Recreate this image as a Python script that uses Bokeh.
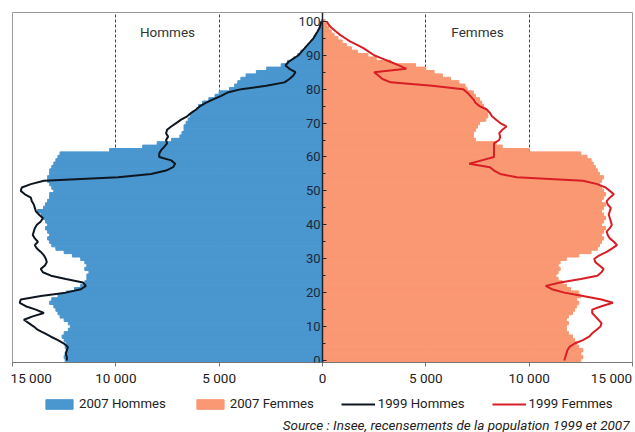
from bokeh.plotting import figure
from bokeh.layouts import column
from bokeh.models import (Range1d, FixedTicker, SingleIntervalTicker, Legend, LegendItem,
                          ColumnDataSource)
from bokeh.embed import file_html
from bokeh.resources import INLINE
from bokeh.core.properties import value

ages = list(range(0, 101))

hommes_2007 = [
    12450, 12500, 12450, 12400, 12450, 12400, 12500, 12600, 12500, 12300,
    12200, 12300, 12500, 12700, 12800, 12900, 13000, 13200, 13100, 12800,
    12400, 12000, 11700, 11500, 11400, 11400, 11300, 11500, 11400, 11500,
    11700, 12100, 12500, 12900, 13100, 13200, 13300, 13200, 13300, 13400,
    13300, 13400, 13500, 13600, 13800, 13500, 13400, 13300, 13200, 13200,
    13000, 13100, 13200, 13300, 13300, 13200, 13200, 13100, 13000, 12900,
    12800, 12700, 10300, 8700, 8000, 7300, 6900, 6800, 6700, 6700,
    6600, 6500, 6400, 6300, 6100, 6000, 5800, 5500, 5200, 5000,
    4500, 4250, 4100, 3950, 3700, 3200, 2700, 2000, 1700, 1400,
    1200, 1050, 850, 700, 550, 420, 300, 210, 140, 90,
    50]

femmes_2007 = [
    12500, 12600, 12500, 12600, 12400, 12300, 12200, 12100, 11900, 11800,
    11800, 11900, 11800, 11900, 12100, 12200, 12300, 12400, 12300, 12500,
    12400, 12000, 11800, 11600, 11400, 11300, 11400, 11500, 11400, 11500,
    11800, 12400, 13000, 13300, 13400, 13500, 13600, 13500, 13600, 13700,
    13500, 13600, 13700, 13600, 13500, 13600, 13700, 13500, 13600, 13700,
    13600, 13500, 13400, 13500, 13600, 13400, 13300, 13200, 13100, 13000,
    12800, 12500, 10000, 8700, 8400, 7400, 7300, 7300, 7400, 7500,
    7600, 7900, 8000, 8000, 7900, 7800, 7700, 7600, 7400, 7300,
    7000, 6900, 6600, 6200, 5800, 5400, 5000, 4500, 3300, 2600,
    2200, 1700, 1400, 1150, 950, 750, 560, 420, 300, 200,
    130]

hommes_1999 = [
    12370, 12370, 12420, 12370, 12320, 12510, 12800, 13140, 13430, 13770,
    13970, 14210, 14450, 14020, 13480, 13870, 14360, 14650, 14600, 13630,
    12420, 11690, 11450, 11590, 12420, 13140, 13530, 13630, 13430, 13340,
    13390, 13480, 13630, 13820, 13920, 13770, 13920, 14020, 13970, 13920,
    13820, 13630, 13530, 13720, 13870, 13920, 13970, 14070, 14110, 14400,
    14600, 14550, 14110, 13480, 9890, 8290, 7570, 7230, 7130, 7320,
    7900, 7900, 7810, 7660, 7520, 7570, 7470, 7570, 7520, 7320,
    7080, 6840, 6550, 6350, 6110, 5920, 5630, 5290, 4900, 4600,
    3930, 2720, 1840, 1600, 1410, 1310, 1600, 1790, 1650, 1410,
    1160, 1020, 870, 730, 580, 440, 340, 240, 150, 100,
    50]

femmes_1999 = [
    11700, 11750, 11800, 11850, 11950, 12200, 12600, 12900, 13050, 13250,
    13450, 13500, 13350, 13200, 13050, 13050, 13500, 14050, 13500, 12600,
    11700, 11100, 10800, 11500, 12500, 13300, 13500, 13600, 13400, 13200,
    13150, 13400, 13750, 14000, 14250, 14100, 13900, 13800, 13750, 13900,
    14000, 13950, 13900, 13850, 13900, 13950, 13800, 13750, 13900, 14100,
    13900, 13700, 13300, 12600, 9400, 8600, 8300, 8100, 7100, 7700,
    8300, 8300, 8300, 8300, 8300, 8550, 8600, 8550, 8700, 8900,
    8600, 8400, 8200, 8100, 7950, 7600, 7400, 7300, 7150, 7000,
    6800, 5300, 3300, 2900, 2700, 2500, 4050, 3700, 3300, 2900,
    2500, 2250, 2000, 1700, 1350, 1100, 850, 650, 450, 300,
    200]

x_ticks = [-15000, -10000, -5000, 0, 5000, 10000, 15000]
x_tick_labels = ["15 000", "10 000", "5 000", "0", "5 000", "10 000", "15 000"]
grid_ticks = [-10000, -5000, 5000, 10000]
group_labels = ["Hommes", "Femmes"]
group_x = [-7500, 7500]
group_y = [96.8, 96.8]
series_names = ["2007 Hommes", "2007 Femmes", "1999 Hommes", "1999 Femmes"]
source_text = ["Source : Insee, recensements de la population 1999 et 2007"]

BLUE = "#4a96cf"
SALMON = "#f99872"
BLACK = "#0e1620"
RED = "#d81e24"
FONT = "Roboto"
NB = "\u00a0"

src = ColumnDataSource(dict(
    age=ages,
    h07=[-v for v in hommes_2007],
    f07=femmes_2007,
    h99=[-v for v in hommes_1999],
    f99=femmes_1999,
    zero=[0] * len(ages),
))

p = figure(width=635, height=388, x_range=Range1d(-15000, 15000),
           y_range=Range1d(-0.6, 102.6), output_backend="svg",
           toolbar_location=None, min_border_left=12, min_border_right=3,
           min_border_top=12, min_border_bottom=0)

p.background_fill_color = "white"
p.border_fill_color = "white"
p.outline_line_color = "#9a9a9a"
p.outline_line_width = 1

# grid
p.ygrid.visible = False
p.xgrid.ticker = FixedTicker(ticks=grid_ticks)
p.xgrid.grid_line_color = "#444444"
p.xgrid.grid_line_dash = "3 2"
p.xgrid.grid_line_width = 1

p.hbar(y="age", left="h07", right="zero", height=1.0, source=src,
       fill_color=BLUE, line_color=BLUE, line_width=1)
p.hbar(y="age", left="zero", right="f07", height=1.0, source=src,
       fill_color=SALMON, line_color=SALMON, line_width=1)
p.line(x="h99", y="age", source=src, line_color=BLACK, line_width=2)
p.line(x="f99", y="age", source=src, line_color=RED, line_width=2)

# group labels
p.text(x=group_x, y=group_y, text=group_labels, text_align="center",
       text_baseline="middle", text_font=value(FONT), text_font_size="13.5px",
       text_color="#333333")

# x axis
overrides = {}
for t, l in zip(x_ticks, x_tick_labels):
    if t == x_ticks[0]:
        overrides[t] = NB * 3 + l
    elif t == x_ticks[-1]:
        overrides[t] = l + NB
    else:
        overrides[t] = l
xa = p.xaxis[0]
xa.ticker = FixedTicker(ticks=x_ticks)
xa.major_label_overrides = overrides
xa.minor_tick_line_color = None
xa.major_tick_in = 0
xa.major_tick_out = 4
xa.axis_line_color = "#777777"
xa.major_tick_line_color = "#777777"
xa.major_label_text_font = FONT
xa.major_label_text_font_size = "13.5px"
xa.major_label_text_color = "#222222"
xa.major_label_standoff = 3

# y axis at x = 0
ya = p.yaxis[0]
ya.fixed_location = 0
ya.ticker = SingleIntervalTicker(interval=10, num_minor_ticks=2)
ya.major_tick_in = 4
ya.major_tick_out = 0
ya.minor_tick_in = 3
ya.minor_tick_out = 0
ya.axis_line_color = "#1b2430"
ya.axis_line_width = 1.5
ya.major_tick_line_color = "#1b2430"
ya.minor_tick_line_color = "#1b2430"
ya.major_label_text_font = FONT
ya.major_label_text_font_size = "13px"
ya.major_label_text_color = "#1b2a3a"
ya.major_label_standoff = 2

# legend + source strip (legend swatches only; their placeholder marks lie off-range)
q = figure(width=635, height=44, x_range=Range1d(0, 635), y_range=Range1d(0, 44),
           output_backend="svg", toolbar_location=None, min_border=0,
           x_axis_location=None, y_axis_location=None)
q.outline_line_color = None
q.grid.visible = False
off = dict(x=[-500, -499], y=[-500, -500])
lr1 = q.rect(x=off["x"][:1], y=off["y"][:1], width=1, height=1, fill_color=BLUE, line_color=BLUE)
lr2 = q.rect(x=off["x"][:1], y=off["y"][:1], width=1, height=1, fill_color=SALMON, line_color=SALMON)
lr3 = q.line(x=off["x"], y=off["y"], line_color=BLACK, line_width=2)
lr4 = q.line(x=off["x"], y=off["y"], line_color=RED, line_width=2)
legend = Legend(items=[
    LegendItem(label=series_names[0], renderers=[lr1]),
    LegendItem(label=series_names[1], renderers=[lr2]),
    LegendItem(label=series_names[2], renderers=[lr3]),
    LegendItem(label=series_names[3], renderers=[lr4]),
], orientation="horizontal", location=(30, 21))
legend.border_line_color = None
legend.background_fill_alpha = 0
legend.label_text_font = FONT
legend.label_text_font_size = "13.2px"
legend.label_text_color = "#222222"
legend.glyph_width = 34
legend.glyph_height = 12
legend.spacing = 27
legend.padding = 2
legend.margin = 0
legend.label_standoff = 3
q.add_layout(legend)

q.text(x=[632], y=[8], text=source_text, text_align="right", text_baseline="middle",
       text_font=value(FONT), text_font_style="italic", text_font_size="13.5px",
       text_color="#222222")

open("out.html", "w").write(file_html(column(p, q, spacing=0), INLINE))
